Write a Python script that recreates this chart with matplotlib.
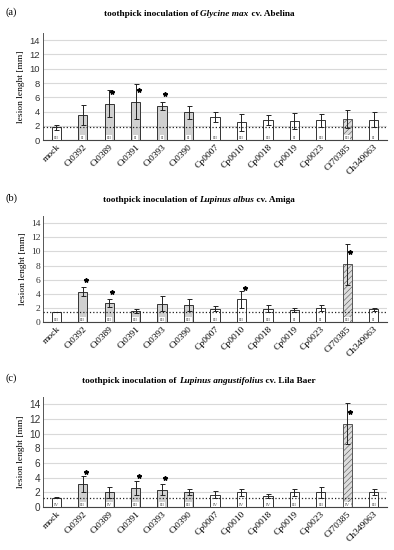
import numpy as np
import matplotlib
matplotlib.use("Agg")
from matplotlib import pyplot as plt

# DATA
strains = ["mock", "Ct0392", "Ct0389", "Ct0391", "Ct0393", "Ct0390", "Cp0007",
           "Cp0010", "Cp0018", "Cp0019", "Cp0023", "Cf70385", "Ch349063"]
groups = ["mock", "Ct", "Ct", "Ct", "Ct", "Ct", "Cp", "Cp", "Cp", "Cp", "Cp", "Cf", "Ch"]

glycine_mean = [1.8, 3.5, 5.1, 5.4, 4.8, 3.9, 3.3, 2.5, 2.8, 2.7, 2.8, 3.0, 2.9]
glycine_err = [0.4, 1.4, 1.9, 2.4, 0.5, 0.9, 0.7, 1.2, 0.7, 1.1, 0.9, 1.3, 1.0]
glycine_sig = [0, 0, 1, 1, 1, 0, 0, 0, 0, 0, 0, 0, 0]
glycine_class = ["III", "II", "III", "II", "II", "II", "III", "III", "III", "II", "III", "III", "II"]

albus_mean = [1.4, 4.3, 2.7, 1.6, 2.6, 2.4, 1.9, 3.2, 1.9, 1.7, 2.0, 8.2, 1.8]
albus_err = [0.0, 0.6, 0.6, 0.3, 1.1, 0.8, 0.4, 1.2, 0.5, 0.3, 0.4, 2.9, 0.2]
albus_sig = [0, 1, 1, 0, 0, 0, 0, 1, 0, 0, 0, 1, 0]
albus_class = ["III", "III", "III", "III", "III", "III", "III", "III", "III", "II", "II", "III", "II"]

angust_mean = [1.3, 3.2, 2.0, 2.6, 2.4, 2.1, 1.7, 2.0, 1.5, 2.0, 2.0, 11.4, 2.1]
angust_err = [0.1, 1.1, 0.7, 0.9, 0.7, 0.4, 0.5, 0.5, 0.3, 0.5, 0.7, 2.8, 0.4]
angust_sig = [0, 1, 0, 1, 1, 0, 0, 0, 0, 0, 0, 1, 0]
angust_class = ["IV", "III", "IV", "III", "III", "III", "IV", "IV", "IV", "III", "III", "IV", "III"]

panels = [
    ("(a)", "Glycine max", "Abelina", glycine_mean, glycine_err, glycine_sig, glycine_class, "sans"),
    ("(b)", "Lupinus albus", "Amiga", albus_mean, albus_err, albus_sig, albus_class, "serif"),
    ("(c)", "Lupinus angustifolius", "Lila Baer", angust_mean, angust_err, angust_sig, angust_class, "sans"),
]

fills = {"mock": "white", "Ct": "#d0d0d0", "Cp": "white", "Cf": "#dcdcdc", "Ch": "white"}

SERIF = ["Liberation Serif", "DejaVu Serif"]
SANS = ["Liberation Sans", "DejaVu Sans"]
plt.rcParams["hatch.linewidth"] = 0.4

fig = plt.figure(figsize=(3.94, 5.5), dpi=100)
renderer = fig.canvas.get_renderer()

boxes = [(0.745, 0.940), (0.4145, 0.607), (0.078, 0.278)]
label_y = [0.978, 0.640, 0.312]
left, right = 43 / 394, 387 / 394


def title_pieces(y, genus, cultivar):
    pieces = [("toothpick inoculation of ", "normal"), (genus, "italic"),
              (" cv. " + cultivar, "normal")]
    texts = []
    for s, style in pieces:
        t = fig.text(0, y, s, family=SERIF, fontsize=6.7, fontweight="bold",
                     style=style, va="center", ha="left")
        texts.append(t)
    widths = [t.get_window_extent(renderer).width for t in texts]
    total = sum(widths)
    x0 = 0.505 * fig.bbox.width - total / 2
    for t, w in zip(texts, widths):
        t.set_x(x0 / fig.bbox.width)
        x0 += w


x = np.arange(len(strains))
for (tag, genus, cv, mean, err, sig, cls, tickfont), (b, t), ly in zip(panels, boxes, label_y):
    ax = fig.add_axes([left, b, right - left, t - b])
    mean = np.array(mean)
    err = np.array(err)
    for i in x:
        g = groups[i]
        ax.bar(i, mean[i], width=0.35, color=fills[g],
               edgecolor="#555555" if g == "Cf" else "#333333",
               linewidth=0.7, hatch="//////" if g == "Cf" else None, zorder=3)
        ax.text(i, 0.35, cls[i], fontsize=3.6, color="#555555", ha="center",
                va="center", family=SERIF, zorder=5,
                bbox=dict(boxstyle="square,pad=0.15", fc="white", ec="none"))
    ax.errorbar(x, mean, yerr=err, fmt="none", ecolor="#222222", elinewidth=0.7,
                capsize=1.8, capthick=0.7, zorder=4)
    ax.axhline(mean[0], color="#222222", linestyle=":", linewidth=0.9, zorder=6)
    for i in x:
        if sig[i]:
            sy = max(mean[i] + 1.6, mean[i] + err[i] - 1.2)
            ax.plot(i + 0.12, sy, marker="*", color="black", markersize=3.2,
                    zorder=6, linestyle="none")
    ax.set_xlim(-0.5, len(strains) - 0.5)
    ax.set_ylim(0, 15)
    ax.set_yticks(range(0, 15, 2))
    ax.grid(axis="y", color="#d9d9d9", linewidth=0.8, zorder=0)
    ax.set_axisbelow(True)
    for s in ["top", "right"]:
        ax.spines[s].set_visible(False)
    ax.spines["left"].set_color("#555555")
    ax.spines["left"].set_linewidth(0.7)
    ax.spines["bottom"].set_color("#444444")
    ax.spines["bottom"].set_linewidth(0.8)
    ax.tick_params(axis="both", length=0, pad=2)
    ax.set_xticks(x)
    ax.set_xticklabels(strains, rotation=45, ha="right", rotation_mode="anchor",
                       family=SERIF, fontsize=6.8)
    fs = 7.2 if tag == "(c)" else 6.8
    for lab in ax.get_yticklabels():
        lab.set_family(SANS if tickfont == "sans" else SERIF)
        lab.set_fontsize(fs)
        lab.set_color("#333333")
    ax.set_ylabel("lesion lenght [mm]", family=SERIF, fontsize=6.8, labelpad=3)
    fig.text(0.013, ly, tag, family=SERIF, fontsize=7.5, va="center")
    title_pieces(ly - 0.004, genus, cv)

fig.savefig("out.png", dpi=100)
